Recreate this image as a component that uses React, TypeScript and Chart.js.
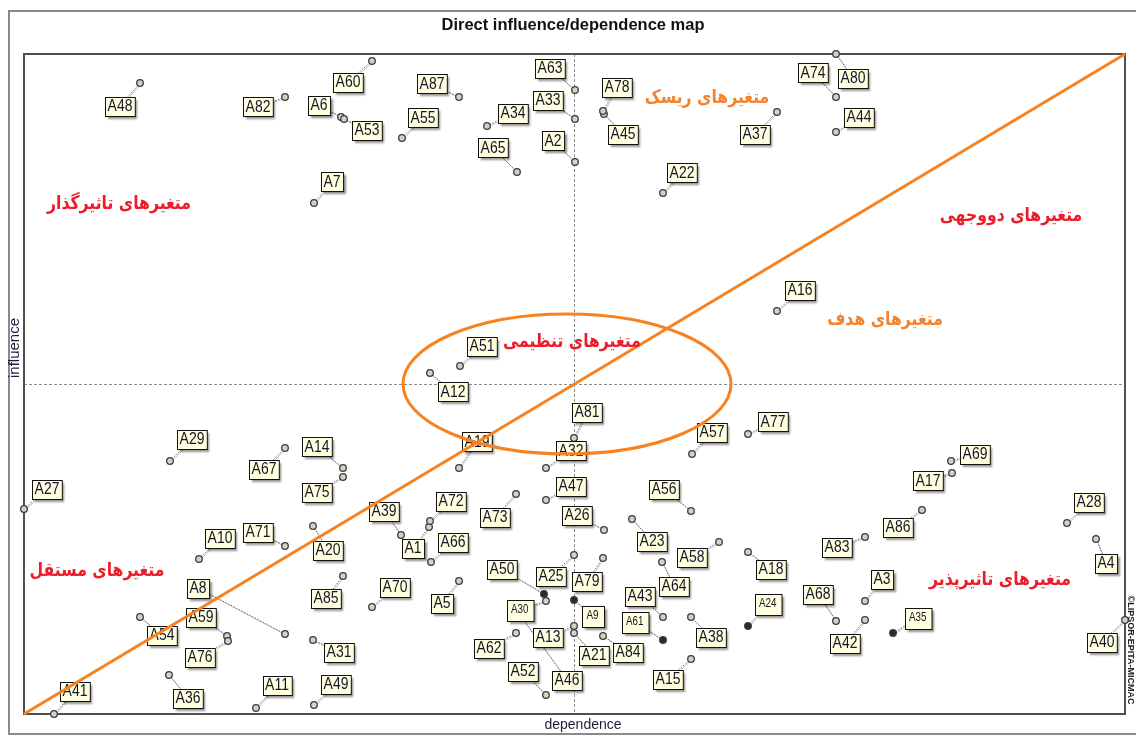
import React, { useEffect, useRef } from "react";
import { Chart, registerables } from "chart.js";
Chart.register(...registerables);

// ---------- DATA ----------
const variableNames = [
  "A1","A2","A3","A4","A5","A6","A7","A8","A9","A10","A11","A12","A13","A14","A15","A16","A17","A18","A19","A20",
  "A21","A22","A23","A24","A25","A26","A27","A28","A29","A30","A31","A32","A33","A34","A35","A36","A37","A38","A39","A40",
  "A41","A42","A43","A44","A45","A46","A47","A48","A49","A50","A51","A52","A53","A54","A55","A56","A57","A58","A59","A60",
  "A61","A62","A63","A64","A65","A66","A67","A68","A69","A70","A71","A72","A73","A74","A75","A76","A77","A78","A79","A80",
  "A81","A82","A83","A84","A85","A86","A87",
];
const dependenceValues = [
  40.5, 55.1, 84.1, 107.2, 43.5, 31.7, 29.0, 26.1, 55.0, 17.5, 23.2, 40.6, 55.0, 31.9, 66.7, 75.3, 92.8, 72.4, 43.5, 28.9,
  55.0, 63.9, 60.8, 72.4, 55.0, 58.0, 0.0, 104.3, 14.6, 52.2, 28.9, 52.2, 55.1, 46.3, 86.9, 14.5, 75.3, 66.7, 37.7, 110.1,
  3.0, 84.1, 63.9, 81.2, 58.0, 49.5, 52.2, 11.6, 29.0, 52.0, 43.6, 52.2, 32.0, 11.6, 37.8, 66.7, 66.8, 69.5, 20.3, 34.8,
  63.9, 49.2, 55.1, 63.8, 49.3, 40.7, 26.1, 81.2, 92.7, 34.8, 26.1, 40.6, 49.2, 81.2, 31.9, 20.4, 72.4, 57.9, 57.9, 81.2,
  55.0, 26.1, 84.1, 57.9, 31.9, 89.8, 43.5,
];
const influenceValues = [
  18.7, 55.2, 11.3, 17.5, 13.3, 59.7, 51.1, 8.0, 11.4, 15.5, 0.6, 34.1, 8.8, 24.6, 5.5, 40.3, 24.1, 16.2, 24.6, 18.8,
  8.1, 52.1, 19.5, 8.8, 15.9, 18.4, 20.5, 19.1, 25.3, 11.3, 7.4, 24.6, 59.5, 58.8, 8.1, 3.9, 60.2, 9.7, 17.9, 9.4,
  0.0, 9.4, 9.7, 58.2, 60.0, 10.0, 21.4, 63.1, 0.9, 12.0, 34.8, 1.9, 59.5, 9.7, 57.6, 20.3, 26.0, 17.2, 7.8, 65.3,
  7.4, 8.1, 62.4, 15.2, 54.2, 15.2, 26.6, 9.3, 25.3, 10.7, 16.8, 19.3, 22.0, 61.7, 23.7, 7.3, 28.0, 60.3, 15.6, 66.0,
  27.6, 61.7, 17.7, 7.8, 13.8, 20.4, 61.7,
];
// label box offset from its point, in screen pixels (layout only)
const labelOffsets: [number, number][] = [
  [-16,21],[-22,-21],[17,-22],[10,24],[-17,22],[-22,-12],[18,-21],[-87,-46],[19,16],[21,-21],
  [21,-23],[23,19],[-26,11],[-26,-21],[-23,20],[23,-21],[-24,8],[23,17],[18,-26],[15,24],
  [20,22],[19,-20],[20,22],[20,-22],[-23,21],[-27,-15],[23,-20],[22,-21],[22,-22],[-26,9],
  [26,12],[25,-17],[-27,-19],[26,-13],[25,-15],[19,23],[-22,22],[20,20],[-17,-24],[-23,22],
  [21,-23],[-20,23],[-23,-21],[23,-15],[19,20],[48,66],[25,-14],[-20,23],[22,-21],[-42,-25],
  [22,-20],[-23,-24],[23,11],[22,18],[21,-20],[-27,-22],[20,-22],[-27,15],[-26,-19],[-24,21],
  [-28,-18],[-27,15],[-25,-22],[12,24],[-24,-24],[22,-20],[-21,21],[-18,-27],[24,-7],[23,-20],
  [-27,-14],[21,-20],[-21,23],[-23,-24],[-26,15],[-28,16],[25,-12],[14,-24],[-16,23],[17,24],
  [13,-26],[-27,10],[-28,10],[25,16],[-17,22],[-24,17],[-27,-13],
];
const smallLabelNames = ["A30", "A9", "A61", "A24", "A35"];
const darkPointNames = ["A9", "A61", "A24", "A35", "A50"];

const dependenceMax = 110.1;
const influenceMax = 66;
const meanDependence = 55.0;
const meanInfluence = 33.0;
const diagonalLine = [{ x: 0, y: 0 }, { x: 110.1, y: 66 }];
const ellipseCenter = [54.3, 33.0];
const ellipseRadii = [16.4, 7.0];

const zoneTexts = ["متغیرهای تاثیرگذار", "متغیرهای ریسک", "متغیرهای دووجهی", "متغیرهای هدف", "متغیرهای تنظیمی", "متغیرهای مستقل", "متغیرهای تاثیرپذیر"];
const zoneX = [9.5, 68.3, 98.7, 86.1, 54.8, 7.3, 97.6];
const zoneY = [51.0, 61.6, 49.8, 39.4, 37.2, 14.3, 13.4];
const zoneColors = ["#ec1c2a", "#f5822f", "#ec1c2a", "#f5822f", "#ec1c2a", "#ec1c2a", "#ec1c2a"];

const chartTitle = "Direct influence/dependence map";
const xTitle = "dependence";
const yTitle = "influence";
const watermark = "©LIPSOR-EPITA-MICMAC";

const ORANGE = "#f7821f";

const mapPlugin = {
  id: "mapPlugin",
  beforeDatasetsDraw(chart: any) {
    const { ctx, chartArea: a, scales } = chart;
    const xs = scales.x, ys = scales.y;
    ctx.save();
    // outer frame
    ctx.strokeStyle = "#8a8a8a";
    ctx.lineWidth = 2;
    ctx.beginPath();
    ctx.moveTo(1136, 11); ctx.lineTo(9, 11); ctx.lineTo(9, 734); ctx.lineTo(1136, 734);
    ctx.stroke();
    // crosshair
    ctx.strokeStyle = "#8c8c8c";
    ctx.lineWidth = 1;
    ctx.setLineDash([3, 2]);
    const mx = Math.round(xs.getPixelForValue(meanDependence)) + 0.5;
    const my = Math.round(ys.getPixelForValue(meanInfluence)) + 0.5;
    ctx.beginPath();
    ctx.moveTo(mx, a.top); ctx.lineTo(mx, a.bottom);
    ctx.moveTo(a.left, my); ctx.lineTo(a.right, my);
    ctx.stroke();
    ctx.setLineDash([]);
    // plot frame
    ctx.strokeStyle = "#505050";
    ctx.lineWidth = 2;
    ctx.strokeRect(a.left, a.top, a.right - a.left, a.bottom - a.top);
    // leaders
    const meta = chart.getDatasetMeta(1);
    meta.data.forEach((el: any, i: number) => {
      const [dx, dy] = labelOffsets[i];
      ctx.strokeStyle = "#c4c4c4";
      ctx.lineWidth = 1;
      ctx.setLineDash([]);
      ctx.beginPath();
      ctx.moveTo(el.x + 1, el.y + 1); ctx.lineTo(el.x + dx + 1, el.y + dy + 1);
      ctx.stroke();
      ctx.strokeStyle = "#6a6a6a";
      ctx.setLineDash([1.5, 1.5]);
      ctx.beginPath();
      ctx.moveTo(el.x, el.y); ctx.lineTo(el.x + dx, el.y + dy);
      ctx.stroke();
    });
    ctx.restore();
  },
  afterDatasetDraw(chart: any, args: any) {
    if (args.index !== 1) return;
    const { ctx } = chart;
    const meta = chart.getDatasetMeta(1);
    ctx.save();
    meta.data.forEach((el: any, i: number) => {
      const name = variableNames[i];
      const small = smallLabelNames.includes(name);
      const [dx, dy] = labelOffsets[i];
      const cx = el.x + dx, cy = el.y + dy;
      const sx = 0.82;
      ctx.font = small ? '12px "Liberation Sans", Arial, sans-serif' : '17px "Liberation Sans", Arial, sans-serif';
      const tw = ctx.measureText(name).width * sx;
      const w = small ? Math.max(tw + 9, 22) : tw + 5;
      const h = small ? 21 : 19;
      const bx = Math.round(cx - w / 2) + 0.5, by = Math.round(cy - h / 2) + 0.5;
      ctx.save();
      ctx.shadowColor = "rgba(0,0,0,0.45)";
      ctx.shadowOffsetX = 2;
      ctx.shadowOffsetY = 2;
      ctx.shadowBlur = 2;
      ctx.fillStyle = "#ffffdf";
      ctx.fillRect(bx, by, w, h);
      ctx.restore();
      ctx.strokeStyle = "#111";
      ctx.lineWidth = 1;
      ctx.strokeRect(bx, by, w, h);
      ctx.fillStyle = "#14142a";
      ctx.textAlign = "center";
      ctx.textBaseline = "middle";
      ctx.save();
      ctx.translate(small ? bx + w / 2 - 1 : cx, small ? by + h / 2 - 1 : cy + 0.5);
      ctx.scale(sx, 1);
      ctx.fillText(name, 0, 0);
      ctx.restore();
    });
    ctx.restore();
  },
  afterDatasetsDraw(chart: any) {
    const { ctx, scales } = chart;
    const xs = scales.x, ys = scales.y;
    const cx = xs.getPixelForValue(ellipseCenter[0]);
    const cy = ys.getPixelForValue(ellipseCenter[1]);
    const rx = xs.getPixelForValue(ellipseCenter[0] + ellipseRadii[0]) - cx;
    const ry = cy - ys.getPixelForValue(ellipseCenter[1] + ellipseRadii[1]);
    ctx.save();
    ctx.strokeStyle = ORANGE;
    ctx.lineWidth = 3;
    ctx.beginPath();
    ctx.ellipse(cx, cy, rx, ry, 0, 0, Math.PI * 2);
    ctx.stroke();
    ctx.restore();
  },
  afterDraw(chart: any) {
    const { ctx, scales } = chart;
    const xs = scales.x, ys = scales.y;
    ctx.save();
    // title
    ctx.fillStyle = "#111";
    ctx.textAlign = "center";
    ctx.textBaseline = "middle";
    ctx.font = 'bold 17px "Liberation Sans", Arial, sans-serif';
    ctx.save();
    ctx.translate(573, 25);
    ctx.scale(0.97, 1);
    ctx.fillText(chartTitle, 0, 0);
    ctx.restore();
    // axis titles
    ctx.fillStyle = "#1e1e3a";
    ctx.font = '14px "Liberation Sans", Arial, sans-serif';
    ctx.fillText(xTitle, 583, 725);
    ctx.save();
    ctx.translate(15, 348);
    ctx.rotate(-Math.PI / 2);
    ctx.font = '15px "Liberation Sans", Arial, sans-serif';
    ctx.fillText(yTitle, 0, 0);
    ctx.restore();
    // watermark
    ctx.save();
    ctx.translate(1130, 650);
    ctx.rotate(Math.PI / 2);
    ctx.fillStyle = "#222";
    ctx.font = 'bold 9px "Liberation Sans", Arial, sans-serif';
    ctx.fillText(watermark, 0, 0);
    ctx.restore();
    // zone labels
    ctx.font = 'bold 18px "DejaVu Sans", sans-serif';
    zoneTexts.forEach((t, i) => {
      ctx.fillStyle = zoneColors[i];
      ctx.save();
      ctx.translate(xs.getPixelForValue(zoneX[i]), ys.getPixelForValue(zoneY[i]));
      ctx.scale(0.87, 1.05);
      ctx.fillText(t, 0, 0);
      ctx.restore();
    });
    ctx.restore();
  },
};

export default function App() {
  const canvasRef = useRef<HTMLCanvasElement | null>(null);
  useEffect(() => {
    if (!canvasRef.current) return;
    const points = variableNames.map((_, i) => ({ x: dependenceValues[i], y: influenceValues[i] }));
    const chart = new Chart(canvasRef.current, {
      type: "scatter",
      data: {
        datasets: [
          {
            label: "diagonal",
            data: diagonalLine,
            showLine: true,
            borderColor: ORANGE,
            borderWidth: 3,
            pointRadius: 0,
            clip: false as any,
          } as any,
          {
            label: "variables",
            data: points,
            pointRadius: 3.3,
            pointBorderWidth: 1.3,
            pointBackgroundColor: (c: any) => (darkPointNames.includes(variableNames[c.dataIndex]) ? "#2a2a2a" : "#d2d2c2"),
            pointBorderColor: "#3c3c3c",
            clip: false as any,
          } as any,
        ],
      },
      options: {
        responsive: false,
        animation: false,
        events: [],
        layout: { padding: { left: 24, top: 54, right: 11, bottom: 22 } },
        scales: {
          x: { type: "linear", min: 0, max: dependenceMax, display: false },
          y: { type: "linear", min: 0, max: influenceMax, display: false },
        },
        plugins: { legend: { display: false }, tooltip: { enabled: false }, title: { display: false } },
      },
      plugins: [mapPlugin],
    });
    return () => chart.destroy();
  }, []);
  return (
    <div style={{ position: "absolute", left: 0, top: 0, width: 1136, height: 736, background: "#fff" }}>
      <canvas ref={canvasRef} width={1136} height={736} style={{ display: "block" }} />
    </div>
  );
}
